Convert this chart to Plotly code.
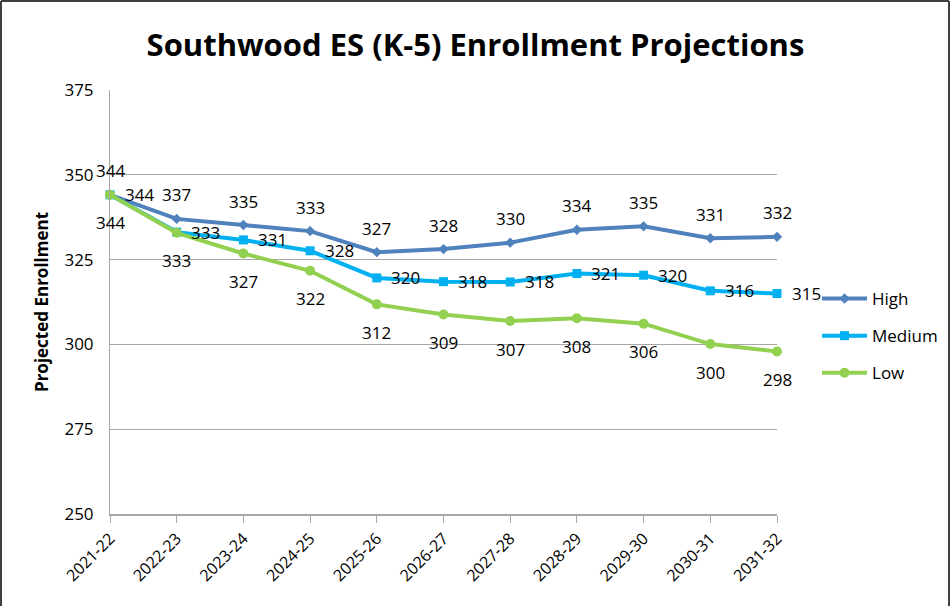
import plotly.graph_objects as go

years = ["2021-22", "2022-23", "2023-24", "2024-25", "2025-26", "2026-27",
         "2027-28", "2028-29", "2029-30", "2030-31", "2031-32"]
high = [344.1, 337.0, 335.2, 333.4, 327.2, 328.1, 330.0, 333.8, 334.8, 331.3, 331.7]
medium = [344.1, 333.1, 330.8, 327.6, 319.6, 318.5, 318.4, 320.9, 320.4, 315.8, 315.0]
low = [344.1, 332.9, 326.8, 321.7, 311.8, 308.8, 306.9, 307.7, 306.1, 300.1, 297.9]

series = [
    ("High", high, "#4F81BD", "diamond", 8, (0, 24)),
    ("Medium", medium, "#00B0F0", "square", 9, (29, 0)),
    ("Low", low, "#92D050", "circle", 10, (0, -28)),
]

FONT = "Open Sans, sans-serif"

fig = go.Figure()
for name, vals, color, sym, msize, shift in series:
    fig.add_trace(go.Scatter(
        x=years, y=vals, name=name, mode="lines+markers",
        line=dict(color=color, width=4),
        marker=dict(symbol=sym, size=msize, color=color),
        cliponaxis=False, legendgroup=name,
    ))
    for xv, yv in zip(years, vals):
        fig.add_annotation(x=xv, y=yv, text=f"{round(yv)}", showarrow=False,
                           xshift=shift[0], yshift=shift[1],
                           font=dict(size=17, color="#000000", family=FONT))

# chart frame (left, top, right edges)
fx0, fx1 = (1 - 110) / 667, (949 - 110) / 667
fy0, fy1 = (514 - 606) / 424, (514 - 1) / 424
for (a, b, c, d) in [(fx0, fy0, fx0, fy1), (fx0, fy1, fx1, fy1), (fx1, fy1, fx1, fy0)]:
    fig.add_shape(type="line", xref="paper", yref="paper", x0=a, y0=b, x1=c, y1=d,
                  line=dict(color="#404040", width=2))

fig.update_layout(
    width=951, height=606,
    margin=dict(l=110, r=174, t=90, b=92, autoexpand=False),
    paper_bgcolor="white", plot_bgcolor="white",
    font=dict(family=FONT, color="#000000"),
    title=dict(text="<b>Southwood ES (K-5) Enrollment Projections</b>",
               x=0.5, xanchor="center", y=1 - 45 / 606, yanchor="middle",
               font=dict(size=31, family=FONT, color="#000000")),
    showlegend=True,
    legend=dict(x=1.06, xanchor="left", y=(514 - 336) / 424, yanchor="middle",
                font=dict(size=17), itemwidth=45, tracegroupgap=12,
                bgcolor="rgba(0,0,0,0)"),
    xaxis=dict(type="category", range=[0, 10], showgrid=False, automargin=False,
               showline=True, linecolor="#A6A6A6", linewidth=2,
               ticks="outside", ticklen=7, tickcolor="#A6A6A6", tickwidth=1,
               tickangle=-45, tickfont=dict(size=16)),
    yaxis=dict(range=[250, 375], dtick=25, showgrid=True, gridcolor="#A6A6A6",
               gridwidth=1, showline=True, linecolor="#A6A6A6", linewidth=1,
               zeroline=False, automargin=False, tickfont=dict(size=17),
               ticks="outside", ticklen=12, tickcolor="rgba(0,0,0,0)",
               title=dict(text="<b>Projected Enrollment</b>", font=dict(size=17), standoff=11)),
)

fig.write_html("out.html", config={"displayModeBar": False},
               post_script="document.body.style.margin='0px';document.body.style.overflow='hidden';")
